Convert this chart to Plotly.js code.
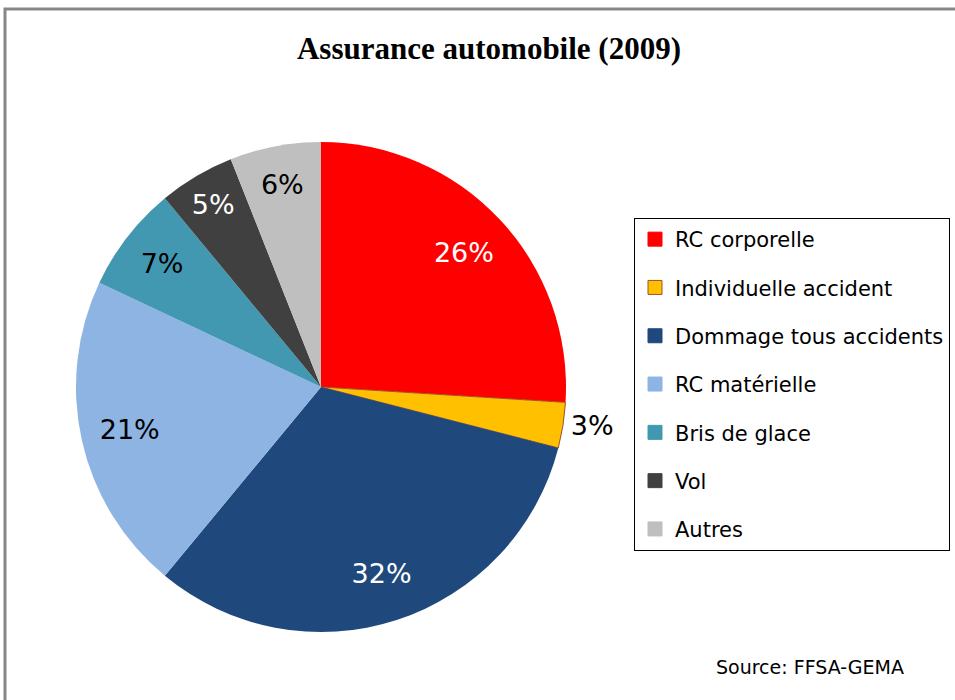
<!DOCTYPE html>
<html>
<head>
<meta charset="utf-8">
<script src="https://cdn.plot.ly/plotly-3.0.1.min.js"></script>
<style>html,body{margin:0;padding:0;background:#fff;}#chart{width:955px;height:700px;}</style>
</head>
<body>
<div id="chart"></div>
<script>
const categories = ["RC corporelle", "Individuelle accident", "Dommage tous accidents", "RC matérielle", "Bris de glace", "Vol", "Autres"];
const shares = [26, 3, 32, 21, 7, 5, 6];
const colors = ["#FF0000", "#FFC000", "#1F497D", "#8EB4E3", "#4298B0", "#404040", "#BFBFBF"];
const textColors = ["#FFFFFF", "#000000", "#FFFFFF", "#000000", "#000000", "#FFFFFF", "#000000"];
const textPositions = ["inside", "outside", "inside", "inside", "inside", "inside", "inside"];
const lineColors = ["#FF0000", "#A0522D", "#1F497D", "#8EB4E3", "#4298B0", "#404040", "#BFBFBF"];

const W = 955, H = 700;
const cx = 321, cy = 387, r = 245;
const dom = {x: [(cx - r) / W, (cx + r) / W], y: [(H - cy - r) / H, (H - cy + r) / H]};

// coloured slices
const pie = {
  type: "pie",
  labels: categories,
  values: shares,
  sort: false,
  direction: "clockwise",
  rotation: 0,
  textinfo: "none",
  marker: {colors: colors, line: {color: lineColors, width: [0, 1, 0, 0, 0, 0, 0]}},
  domain: dom,
  showlegend: false,
  hoverinfo: "label+percent"
};

// transparent ring carrying the percentage labels further out, as in the original
const labelRing = {
  type: "pie",
  labels: categories,
  values: shares,
  sort: false,
  direction: "clockwise",
  rotation: 0,
  hole: 0.6,
  texttemplate: "%{value}%",
  textposition: textPositions,
  insidetextorientation: "horizontal",
  textfont: {family: "DejaVu Sans", size: 27, color: textColors},
  outsidetextfont: {family: "DejaVu Sans", size: 27, color: "#000000"},
  marker: {colors: categories.map(() => "rgba(0,0,0,0)"), line: {width: 0}},
  domain: dom,
  showlegend: false,
  hoverinfo: "skip"
};

const legendTraces = categories.map((c, i) => ({
  type: "scatter",
  mode: "markers",
  x: [null], y: [null],
  name: c,
  legendgroup: "g" + i,
  marker: {symbol: "square", size: 14, color: colors[i], line: {color: i === 1 ? "#A0522D" : colors[i], width: 1}},
  showlegend: true,
  hoverinfo: "skip"
}));

const layout = {
  width: W, height: H,
  margin: {l: 0, r: 0, t: 0, b: 0},
  paper_bgcolor: "#FFFFFF",
  plot_bgcolor: "#FFFFFF",
  title: {
    text: "<b>Assurance automobile (2009)</b>",
    font: {family: "Liberation Serif", size: 31, color: "#000000"},
    x: 489 / W, xref: "paper", xanchor: "center",
    y: 1 - 48 / H, yref: "paper", yanchor: "middle"
  },
  xaxis: {visible: false},
  yaxis: {visible: false},
  showlegend: true,
  legend: {
    x: 634 / W, xanchor: "left",
    y: 1 - 218 / H, yanchor: "top",
    bordercolor: "#000000", borderwidth: 1,
    bgcolor: "#FFFFFF",
    font: {family: "DejaVu Sans", size: 21, color: "#000000"},
    tracegroupgap: 18,
    itemclick: false, itemdoubleclick: false
  },
  shapes: [
    {type: "rect", xref: "paper", yref: "paper", x0: 5 / W, x1: 1.02, y0: -0.02, y1: 1 - 9 / H,
     line: {color: "#878787", width: 3}, fillcolor: "rgba(0,0,0,0)"}
  ],
  annotations: [
    {text: "Source: FFSA-GEMA", xref: "paper", yref: "paper", x: 906 / W, y: 1 - 667 / H,
     xanchor: "right", yanchor: "middle", showarrow: false,
     font: {family: "DejaVu Sans", size: 19, color: "#000000"}}
  ]
};

Plotly.newPlot("chart", [pie, labelRing].concat(legendTraces), layout, {displayModeBar: false, staticPlot: true});
</script>
</body>
</html>
